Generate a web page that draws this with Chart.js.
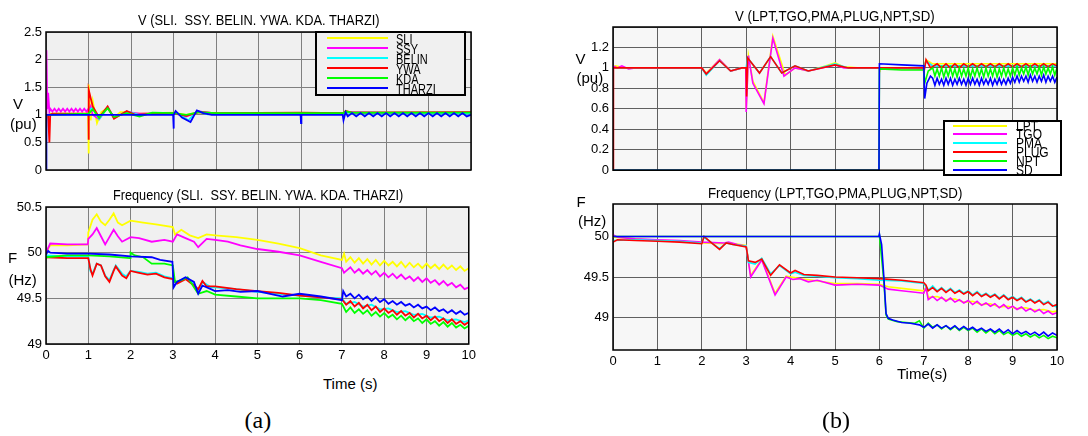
<!DOCTYPE html>
<html>
<head>
<meta charset="utf-8">
<script src="https://cdn.jsdelivr.net/npm/chart.js@4.4.1/dist/chart.umd.min.js"></script>
<style>
body { margin: 0; width: 1088px; height: 436px; background: #fff; position: relative; overflow: hidden; }
canvas { position: absolute; }
.t { position: absolute; left: 0; top: 0; line-height: 1; white-space: pre; color: #000; }
.box { position: absolute; box-sizing: border-box; border: 2px solid #000; }
.ln { position: absolute; height: 2px; }
</style>
</head>
<body>
<canvas id="aV" width="480" height="182" style="left:0;top:0"></canvas>
<canvas id="aF" width="480" height="175" style="left:0;top:190px"></canvas>
<canvas id="bV" width="548" height="182" style="left:540px;top:0"></canvas>
<canvas id="bF" width="548" height="180" style="left:540px;top:190px"></canvas>
<script>
// series names and colours
const namesA = ['SLI', 'SSY', 'BELIN', 'YWA', 'KDA', 'THARZI'];
const namesB = ['LPT', 'TGO', 'PMA', 'PLUG', 'NPT', 'SD'];
const colors = ['#ffff00', '#ff00ff', '#00ffff', '#ff0000', '#00ff00', '#0000ff'];
const timeTicks = [0, 1, 2, 3, 4, 5, 6, 7, 8, 9, 10];

// (a) voltage, pu  [time s, value]
const aV_SLI = [[0,1.0],[0.05,0.95],[0.1,1.02],[0.99,1.02],[1.0,0.3],[1.01,1.55],[1.05,0.9],[1.1,1.25],[1.2,0.85],[1.3,1.05],[1.45,1.12],[1.6,0.95],[1.75,1.05],[1.9,1.05],[2.1,1.02],[2.5,1.03],[3.0,1.04],[3.3,1.0],[3.6,1.05],[4,1.03],[7,1.03],[7.05,1.07],[7.2,1.04],[10,1.04]];
const aV_SSY = [[0,1.0],[0.01,2.17],[0.03,1.1],[0.05,1.4],[0.08,1.06],[0.1,1.11],[0.15,1.06],[0.2,1.11],[0.25,1.06],[0.3,1.11],[0.35,1.06],[0.4,1.11],[0.45,1.06],[0.5,1.11],[0.55,1.06],[0.6,1.11],[0.65,1.06],[0.7,1.11],[0.75,1.06],[0.8,1.11],[0.85,1.06],[0.9,1.11],[0.95,1.06],[0.99,1.1],[1.0,1.05],[1.05,1.15],[1.1,1.0],[1.25,0.92],[1.45,1.14],[1.6,0.95],[1.9,1.05],[2.2,1.02],[3,1.03],[3.3,0.97],[3.6,1.06],[4,1.02],[7,1.03],[7.1,1.05],[8,1.04],[10,1.04]];
const aV_BELIN = [[0,1.0],[0.99,1.01],[1.0,1.0],[1.02,1.1],[1.1,1.12],[1.25,0.92],[1.45,1.13],[1.6,0.94],[1.9,1.06],[2.2,1.0],[2.6,1.03],[3.0,1.02],[3.05,1.05],[3.35,0.9],[3.55,1.07],[3.8,1.01],[4.0,1.02],[7.0,1.02],[7.05,1.05],[7.2,1.02],[10,1.02]];
const aV_YWA = [[0,1.0],[0.05,1.0],[0.08,0.5],[0.1,1.0],[0.15,1.02],[1.0,1.02],[1.0,0.55],[1.01,1.45],[1.1,1.15],[1.25,0.95],[1.45,1.15],[1.6,0.93],[1.9,1.07],[2.1,1.0],[2.5,1.02],[3.0,1.03],[3.3,0.98],[3.6,1.05],[4,1.03],[6,1.04],[7,1.03],[7.05,1.07],[7.2,1.04],[10,1.05]];
const aV_KDA = [[0,1.0],[1.0,1.02],[1.1,1.1],[1.25,0.95],[1.45,1.12],[1.6,0.96],[1.9,1.03],[2.2,0.97],[2.5,1.04],[3,1.03],[3.3,1.0],[3.6,1.05],[4,1.03],[7,1.03],[7.05,1.06],[7.2,1.04],[10,1.04]];
const aV_THARZI = [[0,0],[0.01,1.0],[2.99,1.0],[3.0,0.75],[3.01,1.0],[3.05,1.07],[3.2,0.95],[3.4,0.87],[3.55,1.08],[3.7,1.03],[3.9,1.0],[5.99,1.0],[6.0,0.85],[6.01,1.0],[6.98,1.0],[7.0,0.9],[7.05,1.05],[7.1,0.97],[7.2,1.03],[7.3,0.97],[7.4,1.03],[7.5,0.97],[7.6,1.03],[7.7,0.97],[7.8,1.03],[7.9,0.97],[8.0,1.03],[8.1,0.97],[8.2,1.03],[8.3,0.97],[8.4,1.03],[8.5,0.97],[8.6,1.03],[8.7,0.97],[8.8,1.03],[8.9,0.97],[9.0,1.03],[9.1,0.97],[9.2,1.03],[9.3,0.97],[9.4,1.03],[9.5,0.97],[9.6,1.03],[9.7,0.97],[9.8,1.03],[9.9,0.97],[10,1.0]];

// (a) frequency, Hz
const aF_SLI = [[0,50.0],[0.1,50.08],[0.5,50.08],[0.99,50.09],[1.0,50.22],[1.1,50.36],[1.2,50.42],[1.3,50.34],[1.4,50.3],[1.5,50.36],[1.6,50.43],[1.7,50.33],[1.8,50.3],[2.0,50.35],[2.3,50.33],[2.6,50.31],[3.0,50.28],[3.05,50.2],[3.2,50.25],[3.4,50.19],[3.6,50.16],[3.8,50.2],[4.0,50.19],[4.5,50.17],[5.0,50.14],[5.5,50.1],[6.0,50.05],[6.5,49.97],[7.0,49.92],[7.05,49.99],[7.1,49.9],[7.2,49.95],[7.3,49.89],[7.4,49.94],[7.5,49.88],[7.6,49.93],[7.7,49.87],[7.8,49.92],[7.9,49.86],[8.0,49.91],[8.1,49.86],[8.2,49.9],[8.3,49.85],[8.4,49.9],[8.5,49.84],[8.6,49.89],[8.7,49.84],[8.8,49.88],[8.9,49.83],[9.0,49.88],[9.1,49.83],[9.2,49.87],[9.3,49.82],[9.4,49.87],[9.5,49.82],[9.6,49.86],[9.7,49.81],[9.8,49.85],[9.9,49.8],[10,49.83]];
const aF_SSY = [[0,50.0],[0.1,50.1],[0.5,50.09],[0.99,50.09],[1.0,50.15],[1.1,50.2],[1.2,50.27],[1.3,50.18],[1.4,50.09],[1.5,50.17],[1.6,50.25],[1.7,50.18],[1.8,50.12],[2.0,50.17],[2.2,50.16],[2.5,50.12],[2.8,50.14],[3.0,50.12],[3.1,50.2],[3.3,50.16],[3.5,50.12],[3.6,50.06],[3.8,50.15],[4.0,50.14],[4.3,50.12],[4.6,50.08],[5.0,50.04],[5.5,50.01],[6.0,49.97],[6.5,49.9],[7.0,49.83],[7.05,49.78],[7.1,49.8],[7.2,49.84],[7.3,49.78],[7.4,49.82],[7.5,49.77],[7.6,49.81],[7.7,49.76],[7.8,49.8],[7.9,49.74],[8.0,49.78],[8.1,49.73],[8.2,49.77],[8.3,49.72],[8.4,49.76],[8.5,49.71],[8.6,49.74],[8.7,49.69],[8.8,49.73],[8.9,49.68],[9.0,49.72],[9.1,49.67],[9.2,49.7],[9.3,49.65],[9.4,49.69],[9.5,49.64],[9.6,49.67],[9.7,49.62],[9.8,49.65],[9.9,49.6],[10,49.62]];
const aF_BELIN = [[0,49.97],[0.5,49.96],[1.0,49.96],[1.05,49.8],[1.1,49.77],[1.2,49.88],[1.3,49.86],[1.4,49.75],[1.5,49.7],[1.6,49.81],[1.65,49.86],[1.8,49.77],[1.9,49.74],[2.0,49.8],[2.2,49.79],[2.4,49.77],[2.6,49.78],[2.8,49.74],[3.0,49.72],[3.1,49.67],[3.3,49.72],[3.5,49.66],[3.6,49.58],[3.7,49.68],[3.9,49.62],[4.0,49.62],[4.5,49.6],[5.0,49.57],[5.5,49.55],[6.0,49.53],[6.5,49.51],[7.0,49.5],[7.1,49.44],[7.3,49.46],[7.5,49.41],[7.7,49.43],[7.9,49.38],[8.1,49.39],[8.3,49.35],[8.5,49.36],[8.7,49.32],[8.9,49.33],[9.1,49.29],[9.3,49.3],[9.5,49.26],[9.7,49.27],[9.9,49.24],[10,49.26]];
const aF_YWA = [[0,49.95],[0.5,49.94],[1.0,49.94],[1.05,49.82],[1.1,49.75],[1.2,49.88],[1.3,49.86],[1.4,49.74],[1.5,49.68],[1.6,49.8],[1.65,49.85],[1.8,49.75],[1.9,49.72],[2.0,49.8],[2.2,49.78],[2.4,49.76],[2.6,49.77],[2.8,49.73],[3.0,49.71],[3.1,49.66],[3.3,49.71],[3.5,49.64],[3.6,49.6],[3.7,49.69],[3.8,49.63],[4.0,49.63],[4.5,49.6],[5.0,49.58],[5.5,49.56],[6.0,49.53],[6.5,49.51],[7.0,49.49],[7.1,49.43],[7.2,49.47],[7.3,49.41],[7.4,49.45],[7.5,49.39],[7.6,49.43],[7.7,49.37],[7.8,49.41],[7.9,49.35],[8.0,49.39],[8.1,49.34],[8.2,49.37],[8.3,49.32],[8.4,49.36],[8.5,49.31],[8.6,49.34],[8.7,49.29],[8.8,49.33],[8.9,49.28],[9.0,49.31],[9.1,49.26],[9.2,49.3],[9.3,49.25],[9.4,49.28],[9.5,49.23],[9.6,49.27],[9.7,49.22],[9.8,49.25],[9.9,49.21],[10,49.24]];
const aF_KDA = [[0,49.95],[0.5,49.97],[1.0,49.97],[1.5,49.96],[1.99,49.94],[2.0,50.0],[2.1,49.97],[2.3,49.95],[2.5,49.88],[2.8,49.88],[3.0,49.86],[3.05,49.68],[3.2,49.7],[3.35,49.73],[3.5,49.62],[3.6,49.55],[3.8,49.58],[4.0,49.54],[4.5,49.52],[5.0,49.5],[5.5,49.5],[6.0,49.5],[6.5,49.48],[7.0,49.44],[7.1,49.35],[7.2,49.4],[7.3,49.34],[7.4,49.38],[7.5,49.33],[7.6,49.37],[7.7,49.31],[7.8,49.35],[7.9,49.3],[8.0,49.34],[8.1,49.29],[8.2,49.32],[8.3,49.27],[8.4,49.31],[8.5,49.26],[8.6,49.3],[8.7,49.25],[8.8,49.28],[8.9,49.23],[9.0,49.27],[9.1,49.22],[9.2,49.25],[9.3,49.2],[9.4,49.24],[9.5,49.19],[9.6,49.23],[9.7,49.18],[9.8,49.21],[9.9,49.17],[10,49.2]];
const aF_THARZI = [[0,49.98],[0.05,50.02],[0.1,50.0],[0.5,49.99],[1.0,49.99],[1.5,49.98],[2.0,49.96],[2.5,49.95],[2.7,49.92],[2.99,49.9],[3.02,49.62],[3.1,49.68],[3.3,49.73],[3.5,49.68],[3.6,49.55],[3.7,49.64],[3.9,49.6],[4.0,49.58],[4.3,49.59],[4.6,49.57],[5.0,49.58],[5.3,49.55],[5.6,49.52],[6.0,49.55],[6.5,49.52],[7.0,49.48],[7.03,49.58],[7.1,49.52],[7.2,49.55],[7.3,49.5],[7.4,49.54],[7.5,49.49],[7.6,49.52],[7.7,49.47],[7.8,49.51],[7.9,49.46],[8.0,49.49],[8.1,49.44],[8.2,49.47],[8.3,49.43],[8.4,49.46],[8.5,49.42],[8.6,49.44],[8.7,49.4],[8.8,49.43],[8.9,49.39],[9.0,49.41],[9.1,49.37],[9.2,49.4],[9.3,49.36],[9.4,49.38],[9.5,49.34],[9.6,49.37],[9.7,49.33],[9.8,49.36],[9.9,49.32],[10,49.34]];

// (b) voltage, pu
const bV_LPT = [[0,1.0],[0.05,1.02],[0.3,1.0],[2.0,1.0],[2.1,0.95],[2.4,1.08],[2.65,0.97],[2.9,1.0],[2.99,1.0],[3.0,0.6],[3.05,1.12],[3.15,0.87],[3.4,0.66],[3.6,1.31],[3.88,0.93],[4.1,1.0],[4.4,0.97],[4.8,1.02],[5.0,1.05],[5.2,1.01],[5.5,1.0],[6.0,1.0],[6.01,0.99],[7.0,0.99],[7.05,1.08],[7.2,1.04],[10,1.04]];
const bV_TGO = [[0,1.02],[0.1,1.0],[0.2,1.02],[0.35,0.99],[0.5,1.0],[2.0,1.0],[2.1,0.94],[2.4,1.08],[2.65,0.97],[2.9,1.0],[2.99,1.0],[3.0,0.57],[3.05,1.12],[3.15,0.85],[3.4,0.65],[3.6,1.29],[3.85,0.92],[4.1,1.0],[4.4,0.97],[4.8,1.01],[5.0,1.03],[5.2,1.0],[6.0,1.0],[7.0,0.99],[7.05,1.06],[7.2,1.02],[10,1.02]];
const bV_PMA = [[0,1.0],[2.0,1.0],[2.1,0.93],[2.4,1.07],[2.65,0.97],[2.9,1.0],[3.0,1.0],[3.03,1.1],[3.3,0.95],[3.55,1.11],[3.8,0.95],[4.1,1.02],[4.4,0.97],[5.0,1.04],[5.3,1.0],[6.0,1.0],[7.0,1.0],[7.05,1.07],[7.2,1.02],[10,1.02]];
const bV_PLUG = [[0,0],[0.01,1.0],[2.0,1.0],[2.1,0.94],[2.4,1.07],[2.65,0.97],[2.9,1.0],[3.0,1.0],[3.01,0.72],[3.03,1.1],[3.3,0.95],[3.55,1.11],[3.8,0.95],[4.1,1.02],[4.4,0.97],[5.0,1.03],[5.3,1.0],[6.0,1.0],[6.99,1.0],[7.0,0.95],[7.05,1.08],[7.15,1.0],[7.3,1.04],[7.4,1.0],[7.5,1.04],[7.6,1.0],[7.7,1.04],[7.8,1.0],[7.9,1.04],[8.0,1.01],[8.1,1.04],[8.2,1.01],[8.3,1.04],[8.4,1.01],[8.5,1.04],[8.6,1.01],[8.7,1.04],[8.8,1.01],[8.9,1.04],[9.0,1.01],[9.1,1.04],[9.2,1.01],[9.3,1.04],[9.4,1.01],[9.5,1.04],[9.6,1.01],[9.7,1.04],[9.8,1.01],[9.9,1.04],[10,1.02]];
const bV_NPT = [[0,0],[5.99,0],[6.0,0.99],[6.5,0.98],[7.0,0.98],[7.02,0.85],[7.1,0.97],[7.2,1.0],[7.25,0.92],[7.3,0.99],[7.35,0.92],[7.4,1.0],[7.45,0.91],[7.5,0.99],[7.55,0.92],[7.6,1.0],[7.65,0.92],[7.7,0.99],[7.75,0.91],[7.8,1.0],[7.85,0.92],[7.9,0.99],[7.95,0.92],[8.0,1.0],[8.05,0.91],[8.1,0.99],[8.15,0.92],[8.2,1.0],[8.25,0.92],[8.3,0.99],[8.35,0.91],[8.4,1.0],[8.45,0.92],[8.5,0.99],[8.55,0.92],[8.6,1.0],[8.65,0.91],[8.7,0.99],[8.75,0.92],[8.8,1.0],[8.85,0.92],[8.9,0.99],[8.95,0.92],[9.0,1.0],[9.05,0.93],[9.1,1.01],[9.15,0.93],[9.2,1.0],[9.25,0.94],[9.3,1.01],[9.35,0.93],[9.4,1.01],[9.45,0.94],[9.5,1.0],[9.55,0.94],[9.6,1.01],[9.65,0.93],[9.7,1.01],[9.75,0.94],[9.8,1.0],[9.85,0.94],[9.9,1.01],[9.95,0.93],[10,1.0]];
const bV_SD = [[0,0],[5.99,0],[6.0,1.04],[6.5,1.03],[7.0,1.02],[7.02,0.7],[7.07,0.85],[7.15,0.92],[7.2,0.9],[7.25,0.83],[7.3,0.9],[7.35,0.84],[7.4,0.89],[7.45,0.83],[7.5,0.9],[7.55,0.84],[7.6,0.9],[7.65,0.83],[7.7,0.89],[7.75,0.84],[7.8,0.9],[7.85,0.84],[7.9,0.89],[7.95,0.83],[8.0,0.9],[8.05,0.84],[8.1,0.9],[8.15,0.84],[8.2,0.89],[8.25,0.83],[8.3,0.9],[8.35,0.84],[8.4,0.89],[8.45,0.84],[8.5,0.9],[8.55,0.83],[8.6,0.89],[8.65,0.84],[8.7,0.9],[8.75,0.84],[8.8,0.89],[8.85,0.84],[8.9,0.9],[8.95,0.85],[9.0,0.91],[9.05,0.86],[9.1,0.92],[9.15,0.86],[9.2,0.92],[9.25,0.87],[9.3,0.92],[9.35,0.86],[9.4,0.93],[9.45,0.87],[9.5,0.92],[9.55,0.86],[9.6,0.92],[9.65,0.87],[9.7,0.93],[9.75,0.86],[9.8,0.92],[9.85,0.87],[9.9,0.92],[9.95,0.86],[10,0.91]];

// (b) frequency, Hz
const bF_LPT = [[0,49.99],[0.5,49.97],[1.0,49.95],[1.5,49.94],[2.0,49.92],[2.5,49.91],[2.6,49.92],[3.0,49.89],[3.1,49.52],[3.35,49.72],[3.65,49.3],[3.9,49.51],[4.2,49.48],[4.5,49.46],[5.0,49.42],[5.5,49.42],[6.0,49.41],[6.2,49.38],[6.5,49.36],[7.0,49.33],[7.05,49.38],[7.1,49.25],[7.3,49.26],[7.5,49.22],[7.7,49.23],[7.9,49.19],[8.1,49.2],[8.3,49.16],[8.5,49.17],[8.7,49.13],[8.9,49.14],[9.1,49.11],[9.3,49.12],[9.5,49.09],[9.7,49.1],[9.9,49.07],[10,49.08]];
const bF_TGO = [[0,50.02],[0.1,49.99],[0.5,49.97],[1.0,49.96],[1.5,49.95],[2.0,49.93],[2.5,49.92],[2.6,49.93],[2.8,49.9],[3.0,49.88],[3.1,49.5],[3.35,49.71],[3.65,49.28],[3.9,49.5],[4.05,49.47],[4.2,49.48],[4.4,49.44],[4.6,49.46],[5.0,49.4],[5.5,49.41],[6.0,49.4],[6.2,49.35],[6.5,49.33],[7.0,49.3],[7.05,49.37],[7.1,49.22],[7.2,49.26],[7.3,49.21],[7.4,49.25],[7.5,49.2],[7.6,49.24],[7.7,49.19],[7.8,49.22],[7.9,49.18],[8.0,49.21],[8.1,49.16],[8.2,49.2],[8.3,49.15],[8.4,49.18],[8.5,49.14],[8.6,49.17],[8.7,49.12],[8.8,49.16],[8.9,49.11],[9.0,49.14],[9.1,49.1],[9.2,49.13],[9.3,49.08],[9.4,49.11],[9.5,49.07],[9.6,49.1],[9.7,49.05],[9.8,49.08],[9.9,49.04],[10,49.06]];
const bF_PMA = [[0,49.95],[0.5,49.96],[1.0,49.95],[1.5,49.94],[2.0,49.92],[2.05,49.99],[2.2,49.93],[2.4,49.85],[2.55,49.92],[2.7,49.9],[3.0,49.88],[3.05,49.68],[3.2,49.66],[3.35,49.73],[3.55,49.54],[3.75,49.64],[4.0,49.54],[4.1,49.56],[4.3,49.52],[4.6,49.51],[5.0,49.49],[5.5,49.48],[6.0,49.46],[6.5,49.45],[7.0,49.42],[7.1,49.34],[7.2,49.39],[7.3,49.33],[7.4,49.37],[7.5,49.32],[7.6,49.36],[7.7,49.31],[7.8,49.34],[7.9,49.3],[8.0,49.33],[8.1,49.28],[8.2,49.32],[8.3,49.27],[8.4,49.3],[8.5,49.26],[8.6,49.29],[8.7,49.24],[8.8,49.28],[8.9,49.23],[9.0,49.26],[9.1,49.22],[9.2,49.25],[9.3,49.2],[9.4,49.23],[9.5,49.19],[9.6,49.22],[9.7,49.17],[9.8,49.2],[9.9,49.15],[10,49.13]];
const bF_PLUG = [[0,49.93],[0.1,49.96],[0.5,49.95],[1.0,49.94],[1.5,49.93],[2.0,49.91],[2.05,50.0],[2.2,49.93],[2.4,49.84],[2.55,49.92],[2.7,49.9],[3.0,49.87],[3.05,49.7],[3.2,49.68],[3.35,49.72],[3.55,49.52],[3.75,49.65],[4.0,49.55],[4.1,49.58],[4.3,49.53],[4.6,49.52],[5.0,49.5],[5.5,49.49],[6.0,49.48],[6.5,49.46],[7.0,49.43],[7.05,49.4],[7.1,49.33],[7.2,49.37],[7.3,49.32],[7.4,49.36],[7.5,49.31],[7.6,49.35],[7.7,49.3],[7.8,49.33],[7.9,49.29],[8.0,49.32],[8.1,49.27],[8.2,49.31],[8.3,49.26],[8.4,49.29],[8.5,49.25],[8.6,49.28],[8.7,49.23],[8.8,49.27],[8.9,49.22],[9.0,49.25],[9.1,49.21],[9.2,49.24],[9.3,49.19],[9.4,49.22],[9.5,49.18],[9.6,49.21],[9.7,49.16],[9.8,49.19],[9.9,49.14],[10,49.16]];
const bF_NPT = [[0,50.0],[5.99,50.0],[6.0,50.02],[6.1,49.45],[6.15,49.03],[6.2,48.98],[6.4,48.95],[6.6,48.94],[6.8,48.93],[6.9,48.96],[7.0,48.87],[7.1,48.93],[7.2,48.88],[7.3,48.91],[7.4,48.86],[7.5,48.9],[7.6,48.85],[7.7,48.89],[7.8,48.84],[7.9,48.88],[8.0,48.84],[8.1,48.87],[8.2,48.82],[8.3,48.86],[8.4,48.81],[8.5,48.85],[8.6,48.8],[8.7,48.84],[8.8,48.79],[8.9,48.82],[9.0,48.78],[9.1,48.81],[9.2,48.77],[9.3,48.8],[9.4,48.76],[9.5,48.79],[9.6,48.75],[9.7,48.78],[9.8,48.74],[9.9,48.77],[10,48.75]];
const bF_SD = [[0,50.0],[5.99,50.0],[6.0,50.03],[6.05,49.9],[6.1,49.5],[6.15,49.05],[6.2,48.99],[6.3,48.97],[6.5,48.94],[6.7,48.93],[6.9,48.91],[7.0,48.88],[7.1,48.92],[7.2,48.87],[7.3,48.91],[7.4,48.87],[7.5,48.9],[7.6,48.86],[7.7,48.9],[7.8,48.85],[7.9,48.89],[8.0,48.85],[8.1,48.88],[8.2,48.84],[8.3,48.87],[8.4,48.83],[8.5,48.86],[8.6,48.82],[8.7,48.86],[8.8,48.81],[8.9,48.85],[9.0,48.8],[9.1,48.84],[9.2,48.8],[9.3,48.83],[9.4,48.79],[9.5,48.82],[9.6,48.78],[9.7,48.82],[9.8,48.77],[9.9,48.81],[10,48.78]];

const FONT = '"Liberation Sans", Arial, sans-serif';

// grey plot area + black frame, like the matlab axes
const frame = {
    id: 'frame',
    beforeDraw(chart, args, o) {
        const a = chart.chartArea, c = chart.ctx;
        c.save();
        c.fillStyle = o.bg;
        c.fillRect(a.left, a.top, a.right - a.left, a.bottom - a.top);
        c.restore();
    },
    afterDraw(chart) {
        const a = chart.chartArea, c = chart.ctx;
        c.save();
        c.strokeStyle = '#000';
        c.lineWidth = 1.5;
        c.strokeRect(a.left, a.top, a.right - a.left, a.bottom - a.top);
        c.restore();
    }
};

function makeChart(id, names, series, o) {
    const datasets = series.map((pts, i) => ({
        label: names[i],
        data: pts.map(p => ({ x: p[0], y: p[1] })),
        borderColor: colors[i],
        borderWidth: o.lw,
        pointRadius: 0,
        tension: 0,
        order: series.length - i
    }));
    return new Chart(document.getElementById(id), {
        type: 'line',
        data: { datasets },
        options: {
            responsive: false,
            animation: false,
            events: [],
            layout: { padding: { top: o.top, right: o.right, left: 0, bottom: 0 } },
            plugins: { legend: { display: false }, tooltip: { enabled: false }, frame: { bg: o.bg } },
            scales: {
                x: {
                    type: 'linear', min: 0, max: 10,
                    afterBuildTicks: s => { s.ticks = timeTicks.map(v => ({ value: v })); },
                    ticks: { display: o.xLabels, padding: 4, color: '#000', font: { family: FONT, size: 13 }, maxRotation: 0 },
                    grid: { color: o.grid, drawTicks: false, lineWidth: 1 },
                    border: { display: false },
                    afterFit: s => { s.height = o.xh; }
                },
                y: {
                    min: o.yMin, max: o.yMax,
                    ticks: {
                        stepSize: o.yStep, includeBounds: false, padding: 4, color: '#000',
                        font: { family: FONT, size: 13 },
                        callback: v => (o.hideAbove !== undefined && v > o.hideAbove) ? '' : String(Math.round(v * 10) / 10)
                    },
                    grid: { color: o.grid, drawTicks: false, lineWidth: 1 },
                    border: { display: false },
                    afterFit: s => { s.width = o.yw; }
                }
            }
        },
        plugins: [frame]
    });
}

makeChart('aV', namesA, [aV_SLI, aV_SSY, aV_BELIN, aV_YWA, aV_KDA, aV_THARZI],
    { top: 32, right: 9, yw: 46, xh: 12, xLabels: false, yMin: 0, yMax: 2.5, yStep: 0.5, bg: '#f0f0f0', grid: '#808080', lw: 1.8 });
makeChart('aF', namesA, [aF_SLI, aF_SSY, aF_BELIN, aF_YWA, aF_KDA, aF_THARZI],
    { top: 17, right: 9, yw: 46, xh: 21, xLabels: true, yMin: 49, yMax: 50.5, yStep: 0.5, bg: '#f0f0f0', grid: '#808080', lw: 1.8 });
makeChart('bV', namesB, [bV_LPT, bV_TGO, bV_PMA, bV_PLUG, bV_NPT, bV_SD],
    { top: 27, right: 31, yw: 73, xh: 10, xLabels: false, yMin: 0, yMax: 1.4, yStep: 0.2, hideAbove: 1.3, bg: '#f7f7f7', grid: '#606060', lw: 1.6 });
makeChart('bF', namesB, [bF_LPT, bF_TGO, bF_PMA, bF_PLUG, bF_NPT, bF_SD],
    { top: 14, right: 31, yw: 73, xh: 20, xLabels: true, yMin: 48.6, yMax: 50.4, yStep: 0.5, bg: '#f7f7f7', grid: '#606060', lw: 1.6 });

// text helper: centre (x,y), optional target width and vertical stretch
function label(txt, x, y, o = {}) {
    const d = document.createElement('div');
    d.className = 't';
    d.textContent = txt;
    d.style.font = o.font || ('13px ' + FONT);
    document.body.appendChild(d);
    const w = d.offsetWidth, h = d.offsetHeight;
    const sx = o.w ? o.w / w : 1, sy = o.sy || 1;
    const cx = o.left !== undefined ? o.left + w * sx / 2 : x;
    d.style.transform = `translate(${cx - w / 2}px, ${y - h / 2}px) scale(${sx}, ${sy})`;
    return d;
}

function legend(names, box, rows, lineX, textX, font, sy, bg) {
    const b = document.createElement('div');
    b.className = 'box';
    b.style.cssText += `left:${box[0]}px;top:${box[1]}px;width:${box[2]}px;height:${box[3]}px;background:${bg}`;
    document.body.appendChild(b);
    names.forEach((n, i) => {
        const l = document.createElement('div');
        l.className = 'ln';
        l.style.cssText += `left:${lineX[0]}px;width:${lineX[1] - lineX[0]}px;top:${rows[i] - 1}px;background:${colors[i]}`;
        document.body.appendChild(l);
        label(n, 0, rows[i], { left: textX, font, sy });
    });
}

// titles
label('V (SLI.  SSY. BELIN. YWA. KDA. THARZI)', 259, 20, { font: '12px ' + FONT, w: 242, sy: 1.2 });
label('Frequency (SLI.  SSY. BELIN. YWA. KDA. THARZI)', 258, 195, { font: '12px ' + FONT, w: 290, sy: 1.2 });
label('V (LPT,TGO,PMA,PLUG,NPT,SD)', 835, 16, { font: '12px ' + FONT, w: 200, sy: 1.15 });
label('Frequency (LPT,TGO,PMA,PLUG,NPT,SD)', 835, 193, { font: '12px ' + FONT, w: 254, sy: 1.15 });

// axis labels
label('V', 18, 103, { font: '15px ' + FONT });
label('(pu)', 23.5, 123, { font: '15px ' + FONT });
label('F', 12.5, 257, { font: '15px ' + FONT });
label('(Hz)', 22.5, 279, { font: '15px ' + FONT });
label('Time (s)', 350, 383, { font: '15px ' + FONT });
label('V', 580.5, 58, { font: '15px ' + FONT });
label('(pu)', 590, 77, { font: '15px ' + FONT });
label('F', 581, 201, { font: '15px ' + FONT });
label('(Hz)', 592, 220, { font: '15px ' + FONT });
label('Time(s)', 922, 373, { font: '15px ' + FONT });

// legends
legend(namesA, [315, 31, 151, 65], [38, 48, 58, 68, 78, 88], [327, 388], 396, '11px ' + FONT, 1.4, '#f0f0f0');
legend(namesB, [943, 120, 119, 56], [126, 134, 143, 152, 161, 170], [953, 1007], 1016, '12px ' + FONT, 1.2, '#ffffff');

// sub-figure captions
label('(a)', 258, 420, { font: '24px "Liberation Serif", "Times New Roman", serif' });
label('(b)', 836, 420, { font: '24px "Liberation Serif", "Times New Roman", serif' });
</script>
</body>
</html>
